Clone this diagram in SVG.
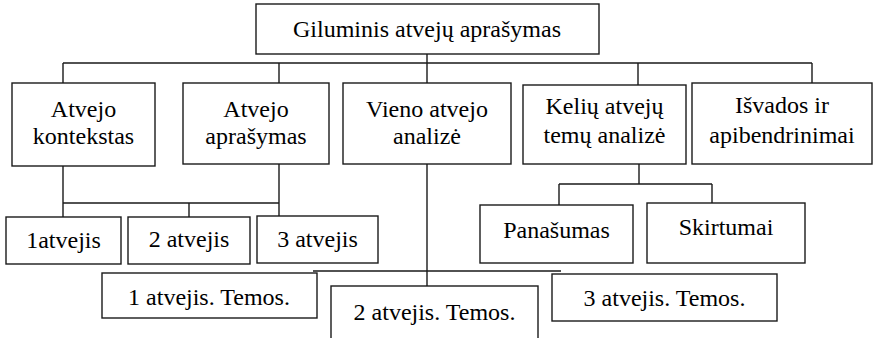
<svg xmlns="http://www.w3.org/2000/svg" width="873" height="338" viewBox="0 0 873 338">
<style>
rect{fill:#fff;stroke:#1a1a1a;stroke-width:1.4}
.c path{fill:none;stroke:#1a1a1a;stroke-width:1.4}
svg text, text.t{font-family:'Liberation Serif',serif !important;font-size:24px;fill:#000;text-anchor:middle}
</style>
<rect x="0" y="0" width="873" height="338" style="stroke:none"/>
<g class="c" id="connectors">
<path d="M427 54V83M63 63H812M63 63V83M279 63V83M638 63V85M812 63V83"/>
<path d="M63 166V217M279 164V216M63 203H279M189 203V217"/>
<path d="M427 164V286M313 271H561"/>
<path d="M639 164V184M559 184H712M559 184V205M712 184V203"/>
</g>
<g id="n-root"><rect x="256" y="4" width="343" height="50"/><text class="t" x="427" y="37">Giluminis atvejų aprašymas</text></g>
<g id="n-kontekstas"><rect x="12" y="83" width="143" height="83"/><text class="t" x="83.5" y="117">Atvejo</text><text class="t" x="83.5" y="144">kontekstas</text></g>
<g id="n-aprasymas"><rect x="183" y="83" width="146" height="81"/><text class="t" x="256" y="117">Atvejo</text><text class="t" x="256" y="144">aprašymas</text></g>
<g id="n-vieno"><rect x="343" y="83" width="168" height="81"/><text class="t" x="427" y="117">Vieno atvejo</text><text class="t" x="427" y="144">analizė</text></g>
<g id="n-keliu"><rect x="523" y="85" width="163" height="79"/><text class="t" x="604.5" y="114">Kelių atvejų</text><text class="t" x="604.5" y="143">temų analizė</text></g>
<g id="n-isvados"><rect x="692" y="83" width="180" height="81"/><text class="t" x="782" y="113">Išvados ir</text><text class="t" x="782" y="143">apibendrinimai</text></g>
<g id="n-a1"><rect x="6" y="217" width="115" height="47"/><text class="t" x="63.5" y="248">1atvejis</text></g>
<g id="n-a2"><rect x="128" y="217" width="122" height="47"/><text class="t" x="189" y="247">2 atvejis</text></g>
<g id="n-a3"><rect x="257" y="216" width="121" height="47"/><text class="t" x="317.5" y="247">3 atvejis</text></g>
<g id="n-panasumas"><rect x="480" y="205" width="153" height="58"/><text class="t" x="556.5" y="238">Panašumas</text></g>
<g id="n-skirtumai"><rect x="647" y="203" width="158" height="60"/><text class="t" x="726" y="235">Skirtumai</text></g>
<g id="n-t1"><rect x="102" y="273" width="215" height="45"/><text class="t" x="209" y="305">1 atvejis. Temos.</text></g>
<g id="n-t2"><rect x="331" y="286" width="207" height="60"/><text class="t" x="434.5" y="320">2 atvejis. Temos.</text></g>
<g id="n-t3"><rect x="552" y="274" width="225" height="47"/><text class="t" x="664.5" y="306">3 atvejis. Temos.</text></g>
</svg>
